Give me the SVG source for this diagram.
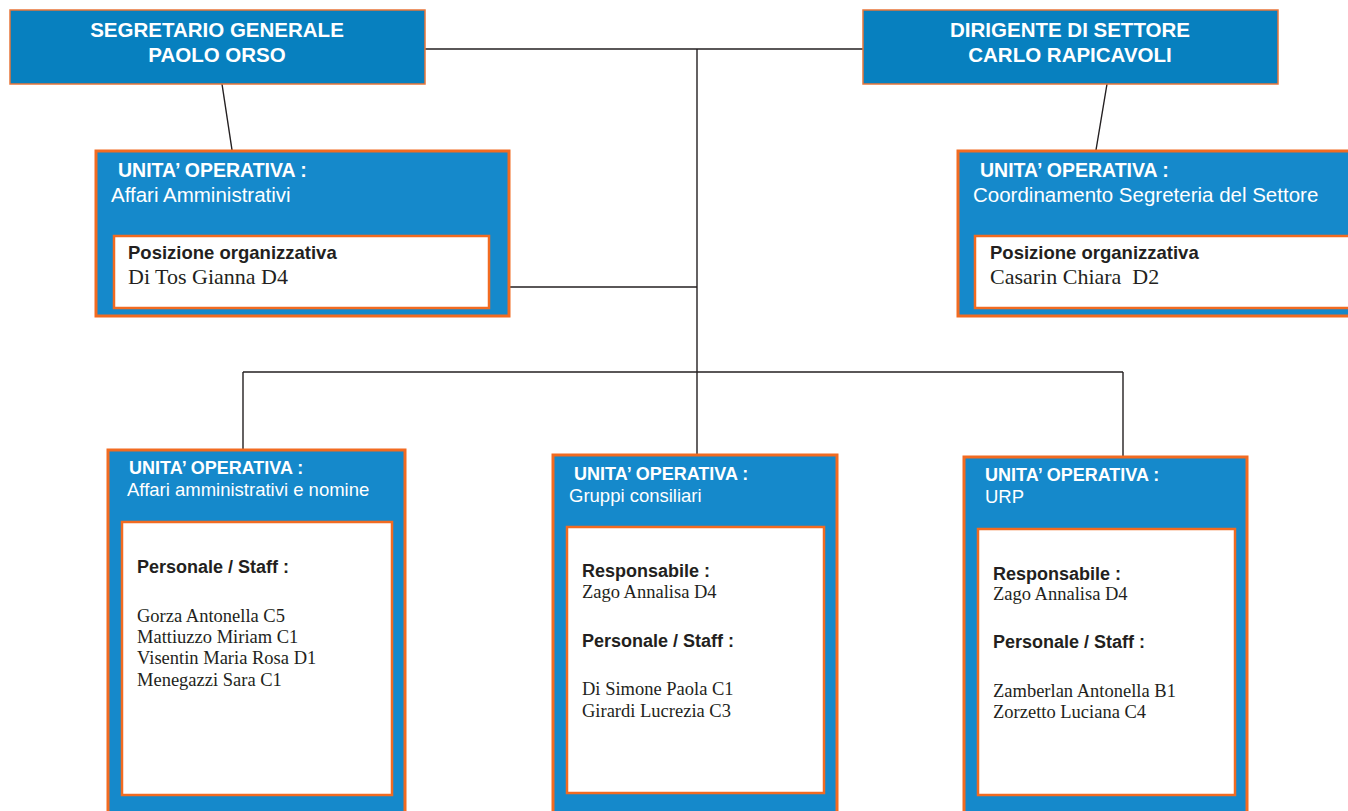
<svg xmlns="http://www.w3.org/2000/svg" width="1348" height="811" viewBox="0 0 1348 811">
<style>
.top{fill:#0780bf;stroke:#e8763a;stroke-width:1.5}
.uo{fill:#1589cb;stroke:#f26b21;stroke-width:3}
.in{fill:#ffffff;stroke:#f26b21;stroke-width:2.5}
.conn{stroke:#231f20;stroke-width:1.4;fill:none}
.tt{font-family:"Liberation Sans",Arial,sans-serif;font-weight:bold;font-size:20.5px;fill:#ffffff;text-anchor:middle}
.h1{font-family:"Liberation Sans",Arial,sans-serif;font-weight:bold;font-size:19.5px;fill:#ffffff}
.s1{font-family:"Liberation Sans",Arial,sans-serif;font-size:20.5px;fill:#ffffff}
.h2{font-family:"Liberation Sans",Arial,sans-serif;font-weight:bold;font-size:18px;fill:#ffffff}
.s2{font-family:"Liberation Sans",Arial,sans-serif;font-size:18.5px;fill:#ffffff}
.lb{font-family:"Liberation Sans",Arial,sans-serif;font-weight:bold;font-size:18px;fill:#231f20}
.lb1{font-family:"Liberation Sans",Arial,sans-serif;font-weight:bold;font-size:18.5px;fill:#231f20}
.nm{font-family:"Liberation Serif","Times New Roman",serif;font-size:18.5px;fill:#231f20}
.nm1{font-family:"Liberation Serif","Times New Roman",serif;font-size:22px;fill:#231f20;white-space:pre}
</style>
<g id="connectors">
<line class="conn" x1="425" y1="49" x2="863" y2="49"/>
<line class="conn" x1="697" y1="49" x2="697" y2="455"/>
<line class="conn" x1="509" y1="287" x2="697" y2="287"/>
<line class="conn" x1="243" y1="372" x2="1123" y2="372"/>
<line class="conn" x1="243" y1="372" x2="243" y2="450"/>
<line class="conn" x1="1123" y1="372" x2="1123" y2="457"/>
<line class="conn" x1="222" y1="84" x2="232" y2="150"/>
<line class="conn" x1="1107" y1="84" x2="1096" y2="150"/>
</g>
<g id="segretario">
<rect class="top" x="10" y="10" width="415" height="74"/>
<text class="tt" x="217" y="37">SEGRETARIO GENERALE</text>
<text class="tt" x="217" y="62">PAOLO ORSO</text>
</g>
<g id="dirigente">
<rect class="top" x="863" y="10" width="415" height="74"/>
<text class="tt" x="1070" y="37">DIRIGENTE DI SETTORE</text>
<text class="tt" x="1070" y="62">CARLO RAPICAVOLI</text>
</g>
<g id="uo-affari-amministrativi">
<rect class="uo" x="96" y="151" width="413" height="165"/>
<rect class="in" x="114" y="236" width="375" height="72"/>
<text class="h1" x="118" y="177">UNITA’ OPERATIVA :</text>
<text class="s1" x="111" y="202">Affari Amministrativi</text>
<text class="lb1" x="128" y="259">Posizione organizzativa</text>
<text class="nm1" x="128" y="284">Di Tos Gianna D4</text>
</g>
<g id="uo-coordinamento">
<rect class="uo" x="958" y="151" width="400" height="165"/>
<rect class="in" x="975" y="236" width="380" height="72"/>
<text class="h1" x="980" y="177">UNITA’ OPERATIVA :</text>
<text class="s1" x="973" y="202">Coordinamento Segreteria del Settore</text>
<text class="lb1" x="990" y="259">Posizione organizzativa</text>
<text class="nm1" x="990" y="284" xml:space="preserve">Casarin Chiara  D2</text>
</g>
<g id="uo-affari-nomine">
<rect class="uo" x="108" y="450" width="297" height="370"/>
<rect class="in" x="122" y="522" width="270" height="273"/>
<text class="h2" x="129" y="474">UNITA’ OPERATIVA :</text>
<text class="s2" x="127" y="496">Affari amministrativi e nomine</text>
<text class="lb" x="137" y="573">Personale / Staff :</text>
<text class="nm" x="137" y="622">Gorza Antonella C5</text>
<text class="nm" x="137" y="643">Mattiuzzo Miriam C1</text>
<text class="nm" x="137" y="664">Visentin Maria Rosa D1</text>
<text class="nm" x="137" y="686">Menegazzi Sara C1</text>
</g>
<g id="uo-gruppi">
<rect class="uo" x="553" y="455" width="284" height="365"/>
<rect class="in" x="567" y="527" width="257" height="266"/>
<text class="h2" x="574" y="480">UNITA’ OPERATIVA :</text>
<text class="s2" x="569" y="502">Gruppi consiliari</text>
<text class="lb" x="582" y="577">Responsabile :</text>
<text class="nm" x="582" y="598">Zago Annalisa D4</text>
<text class="lb" x="582" y="647">Personale / Staff :</text>
<text class="nm" x="582" y="695">Di Simone Paola C1</text>
<text class="nm" x="582" y="717">Girardi Lucrezia C3</text>
</g>
<g id="uo-urp">
<rect class="uo" x="964" y="457" width="283" height="363"/>
<rect class="in" x="978" y="529" width="257" height="266"/>
<text class="h2" x="985" y="481">UNITA’ OPERATIVA :</text>
<text class="s2" x="985" y="503">URP</text>
<text class="lb" x="993" y="580">Responsabile :</text>
<text class="nm" x="993" y="600">Zago Annalisa D4</text>
<text class="lb" x="993" y="648">Personale / Staff :</text>
<text class="nm" x="993" y="697">Zamberlan Antonella B1</text>
<text class="nm" x="993" y="718">Zorzetto Luciana C4</text>
</g>
</svg>
